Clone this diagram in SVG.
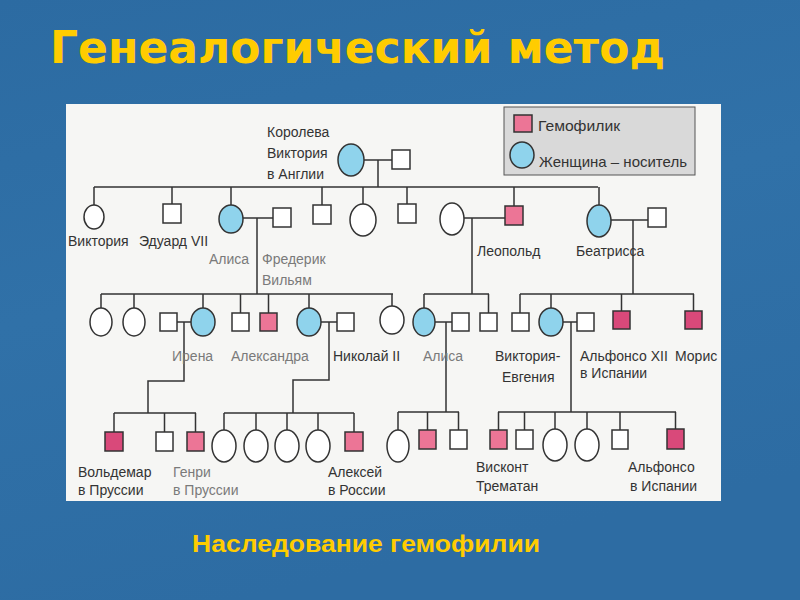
<svg xmlns="http://www.w3.org/2000/svg" width="800" height="600" viewBox="0 0 800 600">
<defs>
<linearGradient id="bg" x1="0" y1="0" x2="0.3" y2="1">
<stop offset="0" stop-color="#2C6BA2"/>
<stop offset="0.5" stop-color="#3071A8"/>
<stop offset="1" stop-color="#2D6CA3"/>
</linearGradient>
<style>
.ln{stroke:#333;stroke-width:1.5;fill:none}
.m{fill:#fff;stroke:#333;stroke-width:1.5}
.f{fill:#fff;stroke:#333;stroke-width:1.5}
.c{fill:#8FD3EC;stroke:#333;stroke-width:1.5}
.h{fill:#EC7596;stroke:#333;stroke-width:1.5}
.hd{fill:#D9497A;stroke:#333;stroke-width:1.5}
text{font-family:"Liberation Sans",Arial,sans-serif;font-size:14px}
.t{fill:#333}
.g{fill:#7a7a7a}
</style>
</defs>
<rect x="0" y="0" width="800" height="600" fill="url(#bg)"/>
<text x="50" y="63" textLength="615" lengthAdjust="spacingAndGlyphs" style="font-family:'DejaVu Sans',sans-serif;font-weight:bold;font-size:44px" fill="#FFCC00">Генеалогический метод</text>
<text x="192" y="552" textLength="348" lengthAdjust="spacingAndGlyphs" style="font-family:'Liberation Sans',Arial,sans-serif;font-weight:bold;font-size:24px" fill="#FFCC00">Наследование гемофилии</text>
<rect x="66" y="104" width="655" height="397" fill="#F6F6F4"/>

<g id="legend">
<rect x="504" y="107" width="191" height="68" fill="#D9D9D9" stroke="#555" stroke-width="1"/>
<rect class="h" x="514" y="115" width="18" height="17"/>
<text class="t" x="538" y="131" textLength="82" lengthAdjust="spacingAndGlyphs" style="font-size:15px">Гемофилик</text>
<ellipse class="c" cx="522" cy="155" rx="12" ry="13"/>
<text class="t" x="539" y="167" textLength="148" lengthAdjust="spacingAndGlyphs" style="font-size:15px">Женщина – носитель</text>
</g>

<g id="connectors">
<path class="ln" d="M364 160H392M378 160V187M94 187H598"/>
<path class="ln" d="M94 187V205M172 187V204M231 187V205M322 187V205M363 187V204M407 187V204M514 187V206M599 187V205"/>
<path class="ln" d="M243 218H273M257 218V294M464 218H505M472 218V294M611 220H648M633 220V294"/>
<path class="ln" d="M101 294H393M101 294V308M134 294V308M203 294V308M240.5 294V313M268.5 294V313M309 294V308M392 294V306"/>
<path class="ln" d="M177 322H191M184 322V381H148V413M321 322H337M329 322V380H293V413"/>
<path class="ln" d="M424 294H489M424 294V308M488.5 294V313M435 322H452M446 322V412"/>
<path class="ln" d="M520 294H694M520 294V313M551 294V308M621.5 294V311M693.5 294V311M563 322H577M571 322V412"/>
<path class="ln" d="M114 413H196M114 413V432M164.5 413V432M195.5 413V432"/>
<path class="ln" d="M224 413H354M224 413V430M256 413V430M287 413V430M318 413V430M354 413V432"/>
<path class="ln" d="M398 412H459M398 412V430M427.5 412V430M458.5 412V430"/>
<path class="ln" d="M498 412H676M498.5 412V430M524.5 412V430M555 412V429M587 412V429M620 412V430M675.5 412V429"/>
</g>

<g id="queen-victoria"><ellipse class="c" cx="351" cy="160" rx="13" ry="16"/>
<text class="t" x="267" y="137">Королева</text><text class="t" x="267" y="158">Виктория</text><text class="t" x="267" y="179">в Англии</text></g>
<g id="albert"><rect class="m" x="392" y="150" width="18" height="19"/></g>

<g id="victoria"><ellipse class="f" cx="94" cy="217" rx="10" ry="12"/><text class="t" x="68" y="246">Виктория</text></g>
<g id="edward-vii"><rect class="m" x="163" y="204" width="18" height="19"/><text class="t" x="139" y="246">Эдуард VII</text></g>
<g id="alice"><ellipse class="c" cx="231" cy="219" rx="12" ry="14"/><text class="g" x="209" y="264">Алиса</text></g>
<g id="frederick-william"><rect class="m" x="273" y="208" width="18" height="19"/><text class="g" x="262" y="264">Фредерик</text><text class="g" x="262" y="285">Вильям</text></g>
<g id="son2"><rect class="m" x="313" y="205" width="18" height="19"/></g>
<g id="daughter3"><ellipse class="f" cx="363" cy="220" rx="13" ry="16"/></g>
<g id="son3"><rect class="m" x="398" y="204" width="18" height="19"/></g>
<g id="leopold-wife"><ellipse class="f" cx="452" cy="219" rx="12" ry="16"/></g>
<g id="leopold"><rect class="h" x="505" y="206" width="18" height="19"/><text class="t" x="477" y="256">Леопольд</text></g>
<g id="beatrice"><ellipse class="c" cx="599" cy="221" rx="12" ry="16"/><text class="t" x="576" y="256">Беатрисса</text></g>
<g id="beatrice-husband"><rect class="m" x="648" y="208" width="18" height="19"/></g>

<g id="g3-1"><ellipse class="f" cx="101" cy="322" rx="11" ry="14"/></g>
<g id="g3-2"><ellipse class="f" cx="134" cy="322" rx="11" ry="14"/></g>
<g id="irena-husband"><rect class="m" x="160" y="313" width="17" height="18"/></g>
<g id="irena"><ellipse class="c" cx="203" cy="322" rx="12" ry="14"/><text class="g" x="172" y="361">Ирена</text></g>
<g id="g3-4"><rect class="m" x="232" y="313" width="17" height="18"/></g>
<g id="g3-5"><rect class="h" x="260" y="313" width="17" height="18"/></g>
<g id="alexandra"><ellipse class="c" cx="309" cy="322" rx="12" ry="14"/><text class="g" x="231" y="361">Александра</text></g>
<g id="nicholas-ii"><rect class="m" x="337" y="313" width="17" height="18"/><text class="t" x="333" y="361">Николай II</text></g>
<g id="g3-7"><ellipse class="f" cx="392" cy="320" rx="12" ry="14"/></g>
<g id="alice-2"><ellipse class="c" cx="424" cy="322" rx="11" ry="14"/><text class="g" x="423" y="361">Алиса</text></g>
<g id="alice-2-husband"><rect class="m" x="452" y="313" width="17" height="18"/></g>
<g id="g3-9"><rect class="m" x="480" y="313" width="17" height="18"/></g>
<g id="g3-10"><rect class="m" x="512" y="313" width="17" height="18"/></g>
<g id="victoria-eugenie"><ellipse class="c" cx="551" cy="322" rx="12" ry="14"/><text class="t" x="495" y="361">Виктория-</text><text class="t" x="502" y="382">Евгения</text></g>
<g id="alfonso-xiii-husband"><rect class="m" x="577" y="313" width="17" height="18"/></g>
<g id="alfonso-xii"><rect class="hd" x="613" y="311" width="17" height="18"/><text class="t" x="580" y="361">Альфонсо XII</text><text class="t" x="580" y="378">в Испании</text></g>
<g id="maurice"><rect class="hd" x="685" y="311" width="17" height="18"/><text class="t" x="675" y="361">Морис</text></g>

<g id="waldemar"><rect class="hd" x="105" y="432" width="18" height="19"/><text class="t" x="78" y="477">Вольдемар</text><text class="t" x="78" y="495">в Пруссии</text></g>
<g id="g4-2"><rect class="m" x="156" y="432" width="17" height="19"/></g>
<g id="henry"><rect class="h" x="187" y="432" width="17" height="19"/><text class="g" x="173" y="477">Генри</text><text class="g" x="173" y="495">в Пруссии</text></g>
<g id="g4-4"><ellipse class="f" cx="224" cy="446" rx="12" ry="16"/></g>
<g id="g4-5"><ellipse class="f" cx="256" cy="446" rx="12" ry="16"/></g>
<g id="g4-6"><ellipse class="f" cx="287" cy="446" rx="12" ry="16"/></g>
<g id="g4-7"><ellipse class="f" cx="318" cy="446" rx="12" ry="16"/></g>
<g id="alexei"><rect class="h" x="345" y="432" width="18" height="19"/><text class="t" x="328" y="477">Алексей</text><text class="t" x="328" y="495">в России</text></g>
<g id="g4-9"><ellipse class="f" cx="398" cy="446" rx="11" ry="16"/></g>
<g id="g4-10"><rect class="h" x="419" y="430" width="17" height="19"/></g>
<g id="g4-11"><rect class="m" x="450" y="430" width="17" height="19"/></g>
<g id="viscount"><rect class="h" x="490" y="430" width="17" height="19"/><text class="t" x="476" y="472">Висконт</text><text class="t" x="476" y="491">Трематан</text></g>
<g id="g4-13"><rect class="m" x="516" y="430" width="17" height="19"/></g>
<g id="g4-14"><ellipse class="f" cx="555" cy="445" rx="12" ry="16"/></g>
<g id="g4-15"><ellipse class="f" cx="587" cy="445" rx="12" ry="16"/></g>
<g id="g4-16"><rect class="m" x="612" y="430" width="16" height="19"/></g>
<g id="alfonso"><rect class="hd" x="667" y="429" width="17" height="20"/><text class="t" x="628" y="472">Альфонсо</text><text class="t" x="630" y="491">в Испании</text></g>
</svg>
